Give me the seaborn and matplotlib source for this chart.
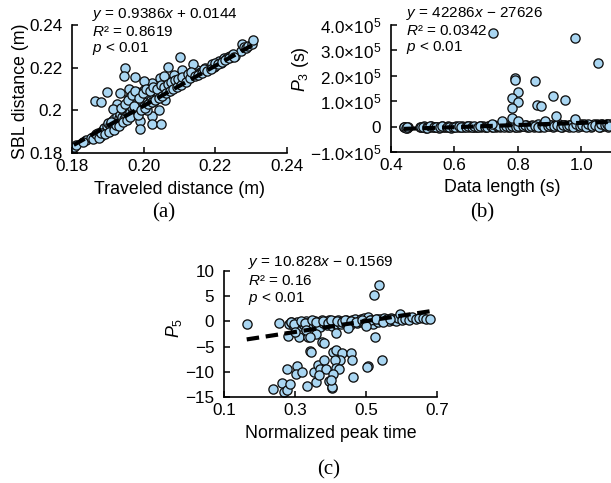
import numpy as np
import pandas as pd
import matplotlib
matplotlib.use("Agg")
import matplotlib.pyplot as plt
import seaborn as sns

# ---------------- data ----------------
# Panel (a): traveled distance vs SBL distance
a_x = [0.1805, 0.1812, 0.1840, 0.1852, 0.1865, 0.1872, 0.1880, 0.1885, 0.1890, 0.1895,
       0.1898, 0.1900, 0.1905, 0.1910, 0.1912, 0.1915, 0.1918, 0.1920, 0.1925, 0.1928,
       0.1930, 0.1935, 0.1938, 0.1940, 0.1942, 0.1945, 0.1948, 0.1950, 0.1952, 0.1955,
       0.1955, 0.1958, 0.1960, 0.1962, 0.1965, 0.1968, 0.1970, 0.1972, 0.1975, 0.1978,
       0.1980, 0.1982, 0.1985, 0.1988, 0.1990, 0.1992, 0.1995, 0.1998, 0.2000, 0.2002,
       0.2005, 0.2008, 0.2010, 0.2012, 0.2015, 0.2018, 0.2020, 0.2022, 0.2025, 0.2028,
       0.2030, 0.2033, 0.2035, 0.2038, 0.2040, 0.2042, 0.2045, 0.2048, 0.2050, 0.2053,
       0.2055, 0.2058, 0.2060, 0.2065, 0.2068, 0.2070, 0.2075, 0.2078, 0.2080, 0.2085,
       0.2088, 0.2090, 0.2095, 0.2098, 0.2100, 0.2105, 0.2110, 0.2112, 0.2115, 0.2120,
       0.2125, 0.2130, 0.2135, 0.2140, 0.2145, 0.2150, 0.2155, 0.2160, 0.2165, 0.2170,
       0.2175, 0.2180, 0.2185, 0.2190, 0.2195, 0.2200, 0.2205, 0.2210, 0.2215, 0.2220,
       0.2225, 0.2230, 0.2235, 0.2240, 0.2245, 0.2250, 0.2255,
       0.2272, 0.2275, 0.2280, 0.2285, 0.2290, 0.2302, 0.2305,
       0.1863, 0.1881, 0.1898, 0.1949, 0.1945, 0.1977, 0.2022, 0.2048, 0.1990, 0.2102,
       0.2137, 0.2069, 0.2084, 0.2107, 0.2046, 0.2056, 0.2023, 0.2000, 0.1935, 0.1960,
       0.1925, 0.1915, 0.2060, 0.2010,
       0.1830, 0.1858, 0.1868, 0.1876, 0.1882, 0.1893, 0.1902, 0.1908, 0.1916, 0.1922,
       0.1932, 0.1937, 0.1943, 0.1947, 0.1953, 0.1957, 0.1963, 0.1967, 0.1973, 0.1977,
       0.1983, 0.1987, 0.1993, 0.1997, 0.2003, 0.2007, 0.2013, 0.2017, 0.2023, 0.2027,
       0.2032, 0.2037, 0.2043, 0.2047, 0.2052, 0.2057, 0.2063, 0.2067, 0.2073, 0.2077,
       0.2083, 0.2087, 0.2093, 0.2097, 0.2103, 0.2108, 0.2118, 0.2123, 0.2128, 0.2133,
       0.2143, 0.2153, 0.2163, 0.2168, 0.2178, 0.2188, 0.2198, 0.2208, 0.2218, 0.2228,
       0.2238, 0.2248, 0.2252]
a_y = [0.1830, 0.1838, 0.1862, 0.1870, 0.1880, 0.1895, 0.1880, 0.1905, 0.1915, 0.1905,
       0.1925, 0.1940, 0.1930, 0.1920, 0.1950, 0.1935, 0.1960, 0.1945, 0.1975, 0.1940,
       0.1965, 0.1985, 0.1950, 0.1970, 0.2000, 0.1960, 0.1990, 0.2020, 0.1975, 0.2045,
       0.1985, 0.2005, 0.2060, 0.1990, 0.2030, 0.2010, 0.2075, 0.1995, 0.2040, 0.2015,
       0.2085, 0.2000, 0.2050, 0.2025, 0.1950, 0.2065, 0.2010, 0.2035, 0.2095, 0.2020,
       0.2060, 0.2040, 0.2025, 0.2110, 0.2070, 0.2035, 0.2050, 0.1975, 0.2090, 0.2045,
       0.2060, 0.2120, 0.2055, 0.2080, 0.2065, 0.2000, 0.2100, 0.2075, 0.2070, 0.2130,
       0.2080, 0.2095, 0.2085, 0.2110, 0.2090, 0.2140, 0.2100, 0.2115, 0.2105, 0.2150,
       0.2115, 0.2125, 0.2120, 0.2160, 0.2130, 0.2135, 0.2140, 0.2165, 0.2145, 0.2150,
       0.2155, 0.2175, 0.2160, 0.2165, 0.2170, 0.2190, 0.2175, 0.2180, 0.2185, 0.2200,
       0.2190, 0.2195, 0.2200, 0.2215, 0.2205, 0.2210, 0.2220, 0.2230, 0.2220, 0.2235,
       0.2245, 0.2240, 0.2250, 0.2255, 0.2250, 0.2260, 0.2255,
       0.2280, 0.2313, 0.2297, 0.2290, 0.2300, 0.2311, 0.2329,
       0.2045, 0.2040, 0.2084, 0.2198, 0.2163, 0.2155, 0.1934, 0.1934, 0.1912, 0.2250,
       0.2219, 0.2204, 0.2167, 0.2187, 0.2152, 0.2160, 0.2130, 0.2137, 0.2080, 0.2100,
       0.2030, 0.2005, 0.2050, 0.2000,
       0.1850, 0.1865, 0.1890, 0.1870, 0.1895, 0.1890, 0.1900, 0.1945, 0.1910, 0.1930,
       0.1925, 0.2010, 0.1945, 0.2030, 0.1955, 0.2050, 0.1970, 0.2070, 0.2020, 0.2090,
       0.1980, 0.2060, 0.2000, 0.2080, 0.2010, 0.2100, 0.2030, 0.2090, 0.2040, 0.2110,
       0.2050, 0.2100, 0.2060, 0.2120, 0.2065, 0.2110, 0.2080, 0.2125, 0.2090, 0.2135,
       0.2100, 0.2140, 0.2110, 0.2145, 0.2120, 0.2155, 0.2135, 0.2170, 0.2150, 0.2180,
       0.2160, 0.2165, 0.2175, 0.2195, 0.2185, 0.2195, 0.2220, 0.2215, 0.2228, 0.2235,
       0.2245, 0.2262, 0.2250]
a_fit = (0.9386, 0.0144)
a_text = [r"$y$ = 0.9386$x$ + 0.0144", r"$R$² = 0.8619", r"$p$ < 0.01"]
a_xticks = [0.18, 0.20, 0.22, 0.24]
a_xticklabels = ["0.18", "0.20", "0.22", "0.24"]
a_yticks = [0.18, 0.20, 0.22, 0.24]
a_yticklabels = ["0.18", "0.2", "0.22", "0.24"]

# Panel (b): data length vs P3
b_x = [0.440, 0.445, 0.450, 0.455, 0.490, 0.500, 0.505, 0.510, 0.520, 0.525,
       0.530, 0.540, 0.545, 0.550, 0.560, 0.565, 0.570, 0.580, 0.585, 0.590,
       0.600, 0.605, 0.610, 0.620, 0.625, 0.630, 0.640, 0.645, 0.650, 0.660,
       0.665, 0.670, 0.680, 0.685, 0.690, 0.700, 0.705, 0.710, 0.720, 0.725,
       0.730, 0.740, 0.745, 0.750, 0.760, 0.765, 0.770, 0.780, 0.785, 0.790,
       0.800, 0.805, 0.810, 0.820, 0.825, 0.830, 0.840, 0.845, 0.850, 0.860,
       0.865, 0.870, 0.880, 0.885, 0.890, 0.900, 0.905, 0.910, 0.920, 0.925,
       0.930, 0.940, 0.945, 0.950, 0.960, 0.965, 0.970, 0.980, 0.985, 0.990,
       1.000, 1.005, 1.010, 1.020, 1.025, 1.030, 1.040, 1.045, 1.050, 1.060,
       1.065, 1.070, 1.080, 1.085, 1.090,
       0.442, 0.448, 0.452, 0.495, 0.502, 0.512, 0.515, 0.522, 0.535, 0.542,
       0.555, 0.562, 0.575, 0.582, 0.595, 0.602, 0.615, 0.622, 0.635, 0.642,
       0.655, 0.662, 0.675, 0.682, 0.695, 0.702, 0.715, 0.722, 0.735, 0.742,
       0.755, 0.762, 0.775, 0.782, 0.795, 0.802, 0.815, 0.822, 0.835, 0.842,
       0.855, 0.862, 0.875, 0.882, 0.895, 0.902, 0.915, 0.922, 0.935, 0.942,
       0.955, 0.962, 0.975, 0.982, 0.995, 1.002, 1.015, 1.022, 1.035, 1.042,
       1.055, 1.062, 1.075, 1.082, 1.088,
       0.721, 0.979, 1.053, 0.790, 0.792, 0.8525, 0.800, 0.781, 0.800, 0.781,
       0.910, 0.949, 0.860, 0.873, 0.781, 0.800, 0.749, 0.885, 0.920, 0.979,
       0.720]
b_y = [-3000, -1000, -4000, -2000, -2000, -3000, 1000, -4000, -1000, 2000,
       -3000, -2000, 0, -4000, 1000, -2000, -3000, 2000, -1000, -4000,
       0, 3000, -2000, -1000, 2000, -3000, 1000, -2000, 3000, -1000,
       0, -3000, 2000, -1000, 4000, -2000, 1000, 3000, -1000, 5000,
       0, 2000, -2000, 4000, 1000, 6000, -1000, 3000, 8000, 0,
       5000, -2000, 4000, 2000, 7000, -1000, 3000, 6000, 0, 4000,
       9000, -2000, 5000, 2000, 8000, 1000, 6000, -1000, 7000, 3000,
       9000, 0, 5000, 8000, -2000, 6000, 10000, 2000, 7000, -1000,
       9000, 4000, 11000, 1000, 8000, -2000, 10000, 5000, 12000, 0,
       9000, 4000, 11000, -1000, 10000,
       -2000, -4000, -1000, -3000, 0, -2000, -4000, 1000, -3000, -1000,
       -2000, 1000, -3000, 0, -1000, -3000, 1000, -2000, 0, 2000,
       -2000, 1000, -1000, 3000, 0, -2000, 2000, -1000, 3000, 1000,
       -1000, 2000, 0, 4000, -2000, 3000, 1000, 5000, -1000, 2000,
       4000, 0, 6000, -1000, 3000, 7000, 1000, 5000, -2000, 8000,
       2000, 6000, -1000, 9000, 3000, 7000, 0, 10000, 4000, 8000,
       -1000, 11000, 5000, 9000, 2000,
       367000, 348000, 252000, 190000, 185000, 178000, 137000, 111000, 97000, 72000,
       122000, 105000, 85000, 81000, 34000, 23000, 23000, 22000, 42000, 28000,
       10000]
b_fit = (42286, -27626)
b_text = [r"$y$ = 42286$x$ − 27626", r"$R$² = 0.0342", r"$p$ < 0.01"]
b_xticks = [0.4, 0.6, 0.8, 1.0]
b_xticklabels = ["0.4", "0.6", "0.8", "1.0"]
b_yticks = [400000, 300000, 200000, 100000, 0, -100000]
b_yticklabels = ["4.0×$10^5$", "3.0×$10^5$", "2.0×$10^5$", "1.0×$10^5$", "0", "−1.0×$10^5$"]

# Panel (c): normalized peak time vs P5
c_x = [0.254, 0.283, 0.290, 0.295, 0.300, 0.305, 0.310, 0.315, 0.320, 0.325,
       0.330, 0.335, 0.340, 0.345, 0.350, 0.355, 0.360, 0.365, 0.370, 0.375,
       0.380, 0.385, 0.390, 0.395, 0.400, 0.405, 0.410, 0.415, 0.420, 0.425,
       0.430, 0.435, 0.440, 0.445, 0.450, 0.455, 0.460, 0.465, 0.470, 0.475,
       0.480, 0.485, 0.490, 0.495, 0.500, 0.505, 0.510, 0.515, 0.520, 0.525,
       0.530, 0.535, 0.540, 0.545, 0.550, 0.555, 0.560, 0.565, 0.570, 0.575,
       0.580, 0.585, 0.590, 0.595, 0.600, 0.610, 0.620, 0.630, 0.640, 0.650,
       0.660, 0.670, 0.680, 0.164,
       0.288, 0.298, 0.318, 0.328, 0.348, 0.358, 0.378, 0.392, 0.402, 0.418,
       0.432, 0.442, 0.458, 0.472, 0.488, 0.498, 0.512, 0.528, 0.548, 0.568,
       0.280, 0.310, 0.337, 0.376, 0.343, 0.360, 0.300, 0.330, 0.450, 0.500,
       0.526, 0.523, 0.538,
       0.238, 0.264, 0.269, 0.278, 0.286, 0.278, 0.305, 0.302, 0.321, 0.333,
       0.359, 0.354, 0.366, 0.371, 0.383, 0.388, 0.369, 0.345, 0.381, 0.407,
       0.416, 0.431, 0.426, 0.413, 0.416, 0.423, 0.407, 0.397, 0.404, 0.457,
       0.461, 0.464, 0.505, 0.343, 0.416, 0.545, 0.504, 0.405, 0.400]
c_y = [-0.3, -0.5, -0.2, -0.8, -0.4, -0.1, -0.6, -1.0, -0.3, -0.7,
       0.0, -0.4, -0.9, -0.2, -0.5, 0.1, -0.6, -0.3, -1.1, 0.2,
       -0.4, -0.1, -0.7, 0.3, -0.3, -0.9, 0.0, -0.5, 0.2, -0.2,
       -0.6, 0.1, -0.3, 0.3, -0.1, -0.7, 0.2, -0.2, 0.4, -0.4,
       0.1, 0.5, -0.2, 0.6, 0.0, 0.8, -0.3, 0.3, -0.5, 0.2,
       0.5, -0.1, 0.4, 0.1, 0.6, 0.2, 0.5, 0.0, 0.7, 0.3,
       0.4, 0.1, 0.6, 1.5, 0.3, 0.5, 0.2, 0.8, 0.4, 0.6,
       0.7, 0.5, 0.5, -0.6,
       -0.1, -0.5, 0.1, -0.3, 0.2, -0.2, 0.0, -0.4, 0.3, 0.1,
       -0.2, 0.2, 0.0, -0.1, 0.3, -0.3, 0.2, 0.4, -0.2, 0.5,
       -2.8, -3.1, -3.0, -4.1, -5.8, -2.5, -2.2, -1.8, -1.4, -1.0,
       -3.0, 5.3, 7.3,
       -13.4, -12.2, -14.0, -13.6, -12.5, -9.4, -8.9, -10.5, -10.1, -12.9,
       -12.0, -10.1, -8.7, -9.4, -7.6, -9.4, -10.7, -6.1, -4.3, -6.1,
       -5.6, -6.3, -7.6, -7.6, -9.2, -9.4, -10.4, -11.8, -13.2, -6.3,
       -7.6, -11.0, -8.9, -3.1, -2.3, -7.6, -9.1, -13.0, -11.7]
c_fit = (10.828, -5.35)   # slope from the label; intercept as drawn in the picture
c_text = [r"$y$ = 10.828$x$ − 0.1569", r"$R$² = 0.16", r"$p$ < 0.01"]
c_xticks = [0.1, 0.3, 0.5, 0.7]
c_xticklabels = ["0.1", "0.3", "0.5", "0.7"]
c_yticks = [10, 5, 0, -5, -10, -15]
c_yticklabels = ["10", "5", "0", "−5", "−10", "−15"]

# ---------------- style ----------------
sns.set_theme(style="ticks")
plt.rcParams["font.family"] = ["Liberation Sans", "DejaVu Sans"]
plt.rcParams["mathtext.fontset"] = "custom"
plt.rcParams["mathtext.rm"] = "Liberation Sans"
plt.rcParams["mathtext.it"] = "Liberation Sans:italic"
plt.rcParams["mathtext.bf"] = "Liberation Sans:bold"
plt.rcParams["text.color"] = "black"
plt.rcParams["axes.labelcolor"] = "black"
plt.rcParams["xtick.color"] = "black"
plt.rcParams["ytick.color"] = "black"

FACE = "#a9d6f2"
EDGE = "#111111"
FS = 12.3

fig = plt.figure(figsize=(6.11, 4.83), dpi=100)
W, H = 611, 483


def add_ax(l, r, t, b):
    return fig.add_axes([l / W, 1 - b / H, (r - l) / W, (b - t) / H])


def style(ax, xlim, ylim, xt, xtl, yt, ytl, xlabel, ylabel, ylab_xy):
    ax.set_xlim(*xlim)
    ax.set_ylim(*ylim)
    ax.set_xticks(xt)
    ax.set_xticklabels(xtl)
    ax.set_yticks(yt)
    ax.set_yticklabels(ytl)
    sns.despine(ax=ax)
    for s in ("left", "bottom"):
        ax.spines[s].set_linewidth(1.2)
        ax.spines[s].set_color("black")
    ax.tick_params(direction="in", length=4, width=1.1, labelsize=FS,
                   colors="black", labelcolor="black")
    ax.tick_params(axis="y", pad=7)
    ax.tick_params(axis="x", pad=4)
    ax.set_xlabel(xlabel, fontsize=FS + 0.5, labelpad=5, color="black")
    ax.set_ylabel(ylabel, fontsize=FS + 0.5, color="black")
    ax.yaxis.set_label_coords(*ylab_xy)
    ax.grid(False)


def scatter_fit(ax, xs, ys, fit):
    df = pd.DataFrame({"x": xs, "y": ys})
    sns.scatterplot(data=df, x="x", y="y", ax=ax, s=44, color=FACE,
                    edgecolor=EDGE, linewidth=0.95, zorder=2, legend=False)
    lx = np.array([min(xs), max(xs)])
    line = pd.DataFrame({"x": lx, "y": fit[0] * lx + fit[1]})
    sns.lineplot(data=line, x="x", y="y", ax=ax, color="black", lw=3.0,
                 zorder=3, dashes=False)
    ax.lines[-1].set_dashes([3.0, 1.6])


def texts(ax, x, ys, lines):
    for yy, s in zip(ys, lines):
        ax.text(x, yy, s, transform=ax.transAxes, fontsize=11.0, va="center",
                ha="left", clip_on=False, color="black")


# panel (a)
axa = add_ax(72, 287, 25, 153)
scatter_fit(axa, a_x, a_y, a_fit)
style(axa, (0.18, 0.24), (0.18, 0.24), a_xticks, a_xticklabels, a_yticks, a_yticklabels,
      "Traveled distance (m)", "SBL distance (m)", (-0.20, 0.48))
texts(axa, 0.095, [1.080, 0.945, 0.815], a_text)

# panel (b)
axb = add_ax(391, 613, 25, 152)
scatter_fit(axb, b_x, b_y, b_fit)
style(axb, (0.4, 1.1), (-100000, 400000), b_xticks, b_xticklabels, b_yticks, b_yticklabels,
      "Data length (s)", r"$P_3$ (s)", (-0.36, 0.65))
texts(axb, 0.068, [1.094, 0.955, 0.825], b_text)

# panel (c)
axc = add_ax(224, 437, 271, 397)
scatter_fit(axc, c_x, c_y, c_fit)
style(axc, (0.1, 0.7), (-15, 10), c_xticks, c_xticklabels, c_yticks, c_yticklabels,
      "Normalized peak time", r"$P_5$", (-0.19, 0.55))
texts(axc, 0.114, [1.064, 0.923, 0.785], c_text)

# sub-figure labels
for s, (px, py) in {"(a)": (164, 213), "(b)": (482, 213), "(c)": (329, 470)}.items():
    fig.text(px / W, 1 - py / H, s, fontsize=15, family="Liberation Serif",
             ha="center", va="center", color="black")

fig.savefig("out.png", dpi=100)
